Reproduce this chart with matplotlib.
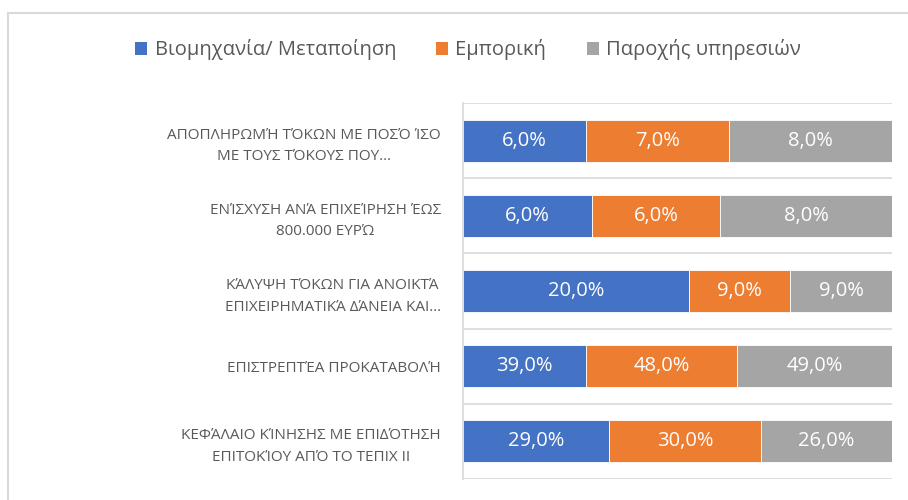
import matplotlib
matplotlib.use("Agg")
import matplotlib.pyplot as plt
from matplotlib.patches import Rectangle, Patch

plt.rcParams['font.family'] = ['Open Sans', 'DejaVu Sans']

categories = [
    "ΑΠΟΠΛΗΡΩΜΉ ΤΌΚΩΝ ΜΕ ΠΟΣΌ ΊΣΟ\nΜΕ ΤΟΥΣ ΤΌΚΟΥΣ ΠΟΥ…",
    "ΕΝΊΣΧΥΣΗ ΑΝΆ ΕΠΙΧΕΊΡΗΣΗ ΈΩΣ\n800.000 ΕΥΡΏ",
    "ΚΆΛΥΨΗ ΤΌΚΩΝ ΓΙΑ ΑΝΟΙΚΤΆ\nΕΠΙΧΕΙΡΗΜΑΤΙΚΆ ΔΆΝΕΙΑ ΚΑΙ…",
    "ΕΠΙΣΤΡΕΠΤΈΑ ΠΡΟΚΑΤΑΒΟΛΉ",
    "ΚΕΦΆΛΑΙΟ ΚΊΝΗΣΗΣ ΜΕ ΕΠΙΔΌΤΗΣΗ\nΕΠΙΤΟΚΊΟΥ ΑΠΌ ΤΟ ΤΕΠΙΧ ΙΙ",
]
series_names = ["Βιομηχανία/ Μεταποίηση", "Εμπορική", "Παροχής υπηρεσιών"]
industry = [6.0, 6.0, 20.0, 39.0, 29.0]
commerce = [7.0, 6.0, 9.0, 48.0, 30.0]
services = [8.0, 8.0, 9.0, 49.0, 26.0]
colors = ["#4472C4", "#ED7D31", "#A5A5A5"]

fig = plt.figure(figsize=(9.08, 5.0), dpi=100)
ax = fig.add_axes([463 / 908, 1 - 479 / 500, (892 - 463) / 908, (479 - 103) / 500])

values = [industry, commerce, services]
totals = [a + b + c for a, b, c in zip(industry, commerce, services)]
y = list(range(len(categories)))
left = [0.0] * len(categories)
for vals, col in zip(values, colors):
    shares = [v / t for v, t in zip(vals, totals)]
    ax.barh(y, shares, left=left, height=0.56, color=col,
            edgecolor="white", linewidth=0.6)
    for i, (v, s) in enumerate(zip(vals, shares)):
        ax.text(left[i] + s / 2, i, f"{v:.1f}%".replace(".", ","),
                ha="center", va="center", color="white", fontsize=14.5)
    left = [l + s for l, s in zip(left, shares)]

ax.set_xlim(0, 1)
ax.set_ylim(len(categories) - 0.5, -0.5)
for k in range(len(categories) + 1):
    ax.axhline(k - 0.5, color="#D9D9D9", lw=1.2, zorder=0)

ax.set_xticks([])
ax.set_yticks(y)
ax.set_yticklabels(categories, fontsize=11, color="#595959",
                   multialignment="center", linespacing=1.6)
ax.tick_params(axis="y", length=0, pad=16)
for side in ["top", "right", "bottom"]:
    ax.spines[side].set_visible(False)
ax.spines["left"].set_color("#D9D9D9")
ax.spines["left"].set_linewidth(1.2)

handles = [Patch(facecolor=c, edgecolor="none") for c in colors]
fig.legend(handles, series_names, loc="center", ncol=3,
           bbox_to_anchor=(468 / 908, 1 - 50 / 500), frameon=False,
           fontsize=14.5, handlelength=0.6, handleheight=0.6,
           handletextpad=0.35, columnspacing=2.0, labelcolor="#595959")

fig.patches.append(Rectangle((8 / 908, -0.1), 1.2, 1.1 - 13 / 500,
                             transform=fig.transFigure, fill=False,
                             edgecolor="#D9D9D9", lw=1.5))

fig.savefig("out.png", dpi=100)
